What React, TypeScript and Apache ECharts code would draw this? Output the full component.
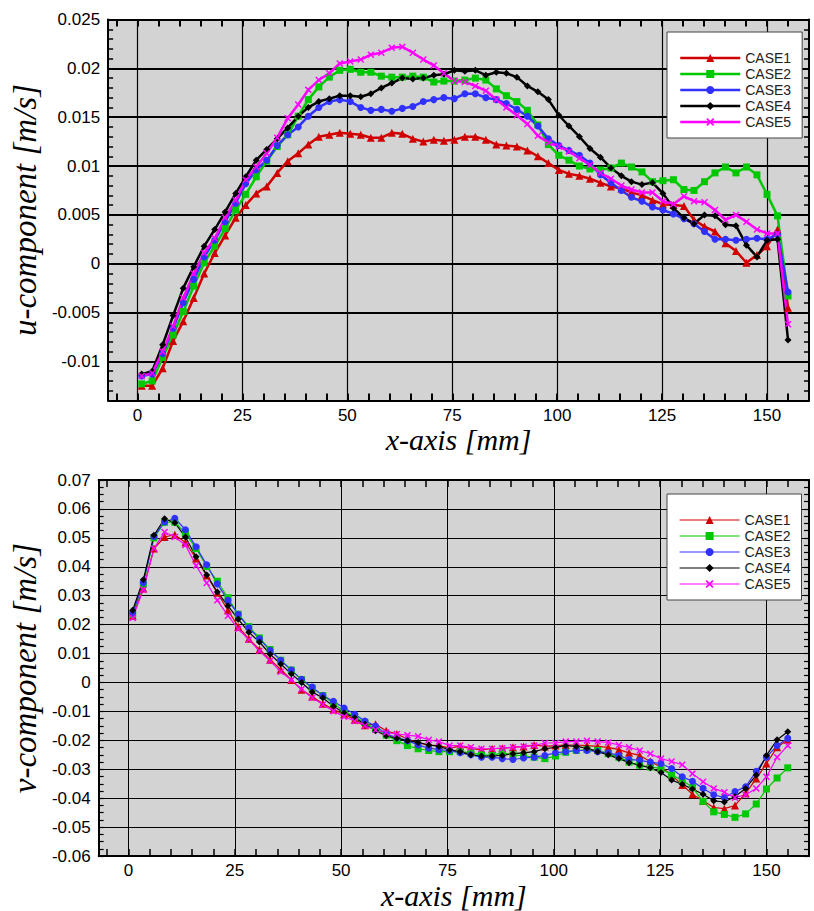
import React, { useEffect, useRef } from "react";
import * as echarts from "echarts";

// ---------------- data ----------------
const xs = [1.0, 3.5, 6.0, 8.5, 10.9, 13.4, 15.9, 18.4, 20.9, 23.4, 25.8, 28.3, 30.8, 33.3, 35.8, 38.3, 40.7, 43.2, 45.7, 48.2, 50.7, 53.2, 55.6, 58.1, 60.6, 63.1, 65.6, 68.1, 70.6, 73.0, 75.5, 78.0, 80.5, 83.0, 85.5, 87.9, 90.4, 92.9, 95.4, 97.9, 100.4, 102.8, 105.3, 107.8, 110.3, 112.8, 115.3, 117.7, 120.2, 122.7, 125.2, 127.7, 130.2, 132.6, 135.1, 137.6, 140.1, 142.6, 145.1, 147.6, 150.0, 152.5, 155.0];

const seriesNames = ["CASE1", "CASE2", "CASE3", "CASE4", "CASE5"];

// u-component
const uCase1 = [-0.0125, -0.0125, -0.0107, -0.0079, -0.0059, -0.0035, -0.0010, 0.0011, 0.0029, 0.0047, 0.0060, 0.0072, 0.0079, 0.0093, 0.0105, 0.0113, 0.0122, 0.0130, 0.0132, 0.0134, 0.0133, 0.0132, 0.0129, 0.0129, 0.0134, 0.0133, 0.0128, 0.0125, 0.0127, 0.0126, 0.0127,
  0.0130, 0.0130, 0.0127, 0.0122, 0.0121, 0.0120, 0.0116, 0.0110, 0.0103, 0.0096, 0.0092, 0.0090, 0.0087, 0.0083, 0.0079, 0.0077, 0.0073, 0.0070, 0.0065, 0.0061, 0.0060, 0.0059, 0.0045, 0.0038, 0.0033, 0.0021, 0.0013, 0.0001, 0.0009, 0.0018, 0.0035, -0.0045];
const uCase2 = [-0.0123, -0.0120, -0.0096, -0.0073, -0.0049, -0.0023, 0.0001, 0.0018, 0.0036, 0.0055, 0.0071, 0.0089, 0.0105, 0.0120, 0.0132, 0.0151, 0.0168, 0.0181, 0.0191, 0.0198, 0.0199, 0.0196, 0.0196, 0.0192, 0.0191, 0.0191, 0.0192, 0.0191, 0.0186, 0.0187, 0.0187,
  0.0188, 0.0190, 0.0188, 0.0179, 0.0172, 0.0166, 0.0157, 0.0142, 0.0122, 0.0111, 0.0106, 0.0100, 0.0097, 0.0096, 0.0098, 0.0103, 0.0099, 0.0094, 0.0084, 0.0085, 0.0086, 0.0076, 0.0075, 0.0084, 0.0093, 0.0099, 0.0093, 0.0099, 0.0091, 0.0071, 0.0049, -0.0033];
const uCase3 = [-0.0115, -0.0113, -0.0092, -0.0066, -0.0040, -0.0016, 0.0007, 0.0024, 0.0043, 0.0062, 0.0082, 0.0096, 0.0106, 0.0121, 0.0132, 0.0140, 0.0151, 0.0160, 0.0166, 0.0168, 0.0166, 0.0160, 0.0157, 0.0158, 0.0156, 0.0159, 0.0161, 0.0166, 0.0168, 0.0170, 0.0169,
  0.0174, 0.0174, 0.0170, 0.0168, 0.0164, 0.0158, 0.0151, 0.0141, 0.0128, 0.0121, 0.0116, 0.0111, 0.0103, 0.0091, 0.0083, 0.0075, 0.0068, 0.0064, 0.0058, 0.0055, 0.0051, 0.0046, 0.0041, 0.0033, 0.0025, 0.0025, 0.0024, 0.0025, 0.0026, 0.0025, 0.0030, -0.0029];
const uCase4 = [-0.0113, -0.0110, -0.0083, -0.0053, -0.0025, -0.0003, 0.0018, 0.0035, 0.0053, 0.0072, 0.0089, 0.0106, 0.0117, 0.0128, 0.0139, 0.0151, 0.0160, 0.0166, 0.0169, 0.0172, 0.0172, 0.0171, 0.0174, 0.0180, 0.0185, 0.0190, 0.0189, 0.0190, 0.0193, 0.0194, 0.0198,
  0.0197, 0.0198, 0.0193, 0.0196, 0.0195, 0.0191, 0.0182, 0.0176, 0.0168, 0.0152, 0.0141, 0.0130, 0.0118, 0.0109, 0.0098, 0.0090, 0.0084, 0.0081, 0.0083, 0.0072, 0.0057, 0.0047, 0.0041, 0.0050, 0.0049, 0.0040, 0.0039, 0.0019, 0.0007, 0.0024, 0.0025, -0.0078];
const uCase5 = [-0.0115, -0.0112, -0.0090, -0.0064, -0.0035, -0.0010, 0.0011, 0.0026, 0.0047, 0.0065, 0.0086, 0.0099, 0.0113, 0.0129, 0.0149, 0.0163, 0.0178, 0.0188, 0.0195, 0.0205, 0.0207, 0.0209, 0.0214, 0.0216, 0.0221, 0.0222, 0.0216, 0.0209, 0.0203, 0.0195, 0.0187,
  0.0186, 0.0182, 0.0177, 0.0168, 0.0160, 0.0152, 0.0143, 0.0131, 0.0124, 0.0120, 0.0115, 0.0108, 0.0101, 0.0093, 0.0087, 0.0080, 0.0076, 0.0073, 0.0073, 0.0064, 0.0061, 0.0069, 0.0064, 0.0063, 0.0055, 0.0045, 0.0050, 0.0043, 0.0035, 0.0031, 0.0031, -0.0062];

// v-component
const vCase1 = [0.0231, 0.0325, 0.0463, 0.0503, 0.0511, 0.0484, 0.0429, 0.0370, 0.0310, 0.0250, 0.0193, 0.0151, 0.0114, 0.0079, 0.0045, 0.0009, -0.0025, -0.0048, -0.0073, -0.0093, -0.0110, -0.0129, -0.0148, -0.0144, -0.0167, -0.0178, -0.0195, -0.0209, -0.0216, -0.0218, -0.0227,
  -0.0220, -0.0229, -0.0232, -0.0229, -0.0227, -0.0224, -0.0221, -0.0216, -0.0221, -0.0218, -0.0216, -0.0216, -0.0218, -0.0221, -0.0224, -0.0232, -0.0243, -0.0252, -0.0273, -0.0292, -0.0320, -0.0354, -0.0386, -0.0409, -0.0432, -0.0436, -0.0425, -0.0383, -0.0332, -0.0280, -0.0224, -0.0198];
const vCase2 = [0.0236, 0.0340, 0.0500, 0.0554, 0.0554, 0.0516, 0.0463, 0.0401, 0.0350, 0.0293, 0.0236, 0.0193, 0.0154, 0.0114, 0.0077, 0.0043, 0.0010, -0.0019, -0.0045, -0.0073, -0.0099, -0.0118, -0.0138, -0.0161, -0.0182, -0.0201, -0.0218, -0.0229, -0.0235, -0.0239, -0.0239,
  -0.0239, -0.0243, -0.0250, -0.0252, -0.0243, -0.0250, -0.0254, -0.0258, -0.0263, -0.0254, -0.0241, -0.0235, -0.0232, -0.0235, -0.0246, -0.0258, -0.0275, -0.0286, -0.0292, -0.0297, -0.0320, -0.0337, -0.0363, -0.0411, -0.0447, -0.0456, -0.0466, -0.0454, -0.0420, -0.0368, -0.0330, -0.0295];
const vCase3 = [0.0240, 0.0345, 0.0505, 0.0555, 0.0568, 0.0528, 0.0469, 0.0407, 0.0341, 0.0284, 0.0236, 0.0189, 0.0151, 0.0111, 0.0077, 0.0043, 0.0011, -0.0016, -0.0045, -0.0065, -0.0088, -0.0110, -0.0133, -0.0150, -0.0178, -0.0190, -0.0201, -0.0216, -0.0227, -0.0232, -0.0235,
  -0.0243, -0.0250, -0.0258, -0.0258, -0.0263, -0.0266, -0.0261, -0.0258, -0.0252, -0.0243, -0.0239, -0.0235, -0.0235, -0.0239, -0.0243, -0.0252, -0.0266, -0.0269, -0.0275, -0.0280, -0.0297, -0.0326, -0.0341, -0.0366, -0.0388, -0.0398, -0.0377, -0.0360, -0.0307, -0.0258, -0.0218, -0.0193];
const vCase4 = [0.0250, 0.0355, 0.0509, 0.0566, 0.0552, 0.0503, 0.0435, 0.0372, 0.0313, 0.0265, 0.0219, 0.0174, 0.0140, 0.0098, 0.0064, 0.0030, 0.0000, -0.0033, -0.0053, -0.0082, -0.0105, -0.0122, -0.0144, -0.0167, -0.0184, -0.0193, -0.0201, -0.0207, -0.0216, -0.0221, -0.0232,
  -0.0239, -0.0250, -0.0254, -0.0254, -0.0252, -0.0246, -0.0243, -0.0239, -0.0229, -0.0224, -0.0218, -0.0221, -0.0227, -0.0239, -0.0250, -0.0263, -0.0277, -0.0286, -0.0295, -0.0311, -0.0337, -0.0352, -0.0368, -0.0386, -0.0409, -0.0413, -0.0394, -0.0366, -0.0320, -0.0252, -0.0198, -0.0170];
const vCase5 = [0.0223, 0.0321, 0.0463, 0.0520, 0.0503, 0.0475, 0.0404, 0.0344, 0.0284, 0.0231, 0.0185, 0.0148, 0.0109, 0.0075, 0.0037, 0.0009, -0.0023, -0.0053, -0.0076, -0.0099, -0.0118, -0.0133, -0.0150, -0.0164, -0.0173, -0.0178, -0.0182, -0.0186, -0.0198, -0.0204, -0.0218,
  -0.0218, -0.0224, -0.0229, -0.0229, -0.0227, -0.0224, -0.0221, -0.0218, -0.0209, -0.0209, -0.0204, -0.0204, -0.0201, -0.0204, -0.0207, -0.0216, -0.0224, -0.0235, -0.0246, -0.0263, -0.0273, -0.0284, -0.0315, -0.0343, -0.0366, -0.0379, -0.0398, -0.0388, -0.0366, -0.0326, -0.0258, -0.0218];

// tick labels
const xLabelTicks = [0, 25, 50, 75, 100, 125, 150];
const xMinorTicks = [-5, 0, 5, 10, 15, 20, 25, 30, 35, 40, 45, 50, 55, 60, 65, 70, 75, 80, 85, 90, 95, 100, 105, 110, 115, 120, 125, 130, 135, 140, 145, 150, 155, 160];
const uLabelTicks = [-0.01, -0.005, 0, 0.005, 0.01, 0.015, 0.02, 0.025];
const uMinorTicks = Array.from({ length: 40 }, (_, k) => (k - 14) / 1000);
const vLabelTicks = [-0.06, -0.05, -0.04, -0.03, -0.02, -0.01, 0, 0.01, 0.02, 0.03, 0.04, 0.05, 0.06, 0.07];
const vMinorTicks = Array.from({ length: 53 }, (_, k) => ((k - 24) * 25) / 10000);

// ---------------- styles ----------------
const COLORS = ["#d00000", "#00c800", "#3030ff", "#000000", "#ff00ff"];
const X_PATH = "path://M0,1.5L1.5,0L5,3.5L8.5,0L10,1.5L6.5,5L10,8.5L8.5,10L5,6.5L1.5,10L0,8.5L3.5,5Z";
const SYMBOLS = ["triangle", "rect", "circle", "diamond", X_PATH];
const SANS = "'Liberation Sans', Arial, sans-serif";
const SERIF = "'Liberation Serif', 'Times New Roman', serif";

const uData = [uCase1, uCase2, uCase3, uCase4, uCase5];
const vData = [vCase1, vCase2, vCase3, vCase4, vCase5];

function xAxesFor(gridIndex: number, splitWidth: number, tickWidth: number) {
  const base = { type: "value", gridIndex, min: -7, max: 160 };
  return [
    {
      ...base,
      position: "bottom",
      axisLine: { show: true, onZero: false, lineStyle: { color: "#000", width: 2 } },
      axisTick: { show: false, customValues: xLabelTicks },
      axisLabel: { customValues: xLabelTicks, color: "#000", fontSize: 17, fontFamily: SANS, margin: 6 },
      splitLine: { show: true, lineStyle: { color: "#000", width: splitWidth } },
      name: "x-axis [mm]",
      nameLocation: "middle",
      nameGap: 22,
      nameTextStyle: { fontFamily: SERIF, fontStyle: "italic", fontSize: 30, color: "#000", verticalAlign: "top" },
    },
    {
      ...base,
      position: "bottom",
      axisLine: { show: false, onZero: false },
      axisTick: { show: true, inside: true, length: 7, customValues: xMinorTicks, lineStyle: { color: "#000", width: tickWidth } },
      axisLabel: { show: false },
      splitLine: { show: false },
    },
    {
      ...base,
      position: "top",
      axisLine: { show: true, onZero: false, lineStyle: { color: "#000", width: 2 } },
      axisTick: { show: true, inside: true, length: 7, customValues: xMinorTicks, lineStyle: { color: "#000", width: tickWidth } },
      axisLabel: { show: false },
      splitLine: { show: false },
    },
  ];
}

function yAxesFor(gridIndex: number, min: number, max: number, labels: number[], minor: number[], name: string, splitWidth: number, tickWidth: number) {
  const base = { type: "value", gridIndex, min, max };
  return [
    {
      ...base,
      position: "left",
      axisLine: { show: true, onZero: false, lineStyle: { color: "#000", width: 2 } },
      axisTick: { show: false, customValues: labels },
      axisLabel: { customValues: labels, color: "#000", fontSize: 17, fontFamily: SANS, margin: 8 },
      splitLine: { show: true, lineStyle: { color: "#000", width: splitWidth } },
      name,
      nameLocation: "middle",
      nameGap: 51,
      nameTextStyle: { fontFamily: SERIF, fontStyle: "italic", fontSize: 33, color: "#000" },
    },
    {
      ...base,
      position: "left",
      axisLine: { show: false, onZero: false },
      axisTick: { show: true, inside: true, length: 5, customValues: minor, lineStyle: { color: "#000", width: tickWidth } },
      axisLabel: { show: false },
      splitLine: { show: false },
    },
    {
      ...base,
      position: "right",
      axisLine: { show: true, onZero: false, lineStyle: { color: "#000", width: 2 } },
      axisTick: { show: true, inside: true, length: 5, customValues: minor, lineStyle: { color: "#000", width: tickWidth } },
      axisLabel: { show: false },
      splitLine: { show: false },
    },
  ];
}

function seriesFor(data: number[][], axisIndex: number, lineWidth: number, symbolSize: number) {
  return data.map((vals, s) => ({
    type: "line",
    name: seriesNames[s],
    xAxisIndex: axisIndex,
    yAxisIndex: axisIndex,
    data: xs.map((x, i) => [x, vals[i]]),
    symbol: SYMBOLS[s],
    symbolSize: s === 0 ? symbolSize + 1 : symbolSize,
    showSymbol: true,
    lineStyle: { color: COLORS[s], width: lineWidth },
    itemStyle: { color: COLORS[s] },
    emphasis: { disabled: true },
  }));
}

function legendFor(top: number, lineWidth: number) {
  return {
    data: seriesNames,
    orient: "vertical",
    left: 667,
    top,
    itemWidth: 60,
    itemHeight: 10,
    itemGap: 2,
    padding: [19, 11, 9, 12],
    backgroundColor: "#ffffff",
    borderColor: "#444",
    borderWidth: 1,
    borderRadius: 0,
    selectedMode: false,
    lineStyle: { width: lineWidth },
    textStyle: { fontSize: 14, fontFamily: SANS, color: "#222", lineHeight: 14 },
  };
}

export default function App() {
  const ref = useRef<HTMLDivElement>(null);
  useEffect(() => {
    if (!ref.current) return;
    const chart = echarts.init(ref.current, undefined, { renderer: "svg" });
    const option = {
      animation: false,
      backgroundColor: "#ffffff",
      grid: [
        { left: 98, right: 5, top: 19.5, height: 381, show: true, backgroundColor: "#d3d3d3", borderWidth: 0 },
        { left: 98, right: 5, top: 480, height: 382, show: true, backgroundColor: "#d3d3d3", borderWidth: 0 },
      ],
      xAxis: [...xAxesFor(0, 1.2, 2), ...xAxesFor(1, 1, 1.5)],
      yAxis: [
        ...yAxesFor(0, -0.014, 0.025, uLabelTicks, uMinorTicks, "u-component [m/s]", 2, 1.5),
        ...yAxesFor(1, -0.06, 0.07, vLabelTicks, vMinorTicks, "v-component [m/s]", 1, 1.2),
      ],
      legend: [legendFor(32, 2.5), legendFor(494, 1.2)],
      series: [...seriesFor(uData, 0, 2.5, 7), ...seriesFor(vData, 3, 1.2, 7)],
    };
    chart.setOption(option as any);
    return () => chart.dispose();
  }, []);
  return <div ref={ref} style={{ position: "fixed", left: 0, top: 0, width: 814, height: 911 }} />;
}
